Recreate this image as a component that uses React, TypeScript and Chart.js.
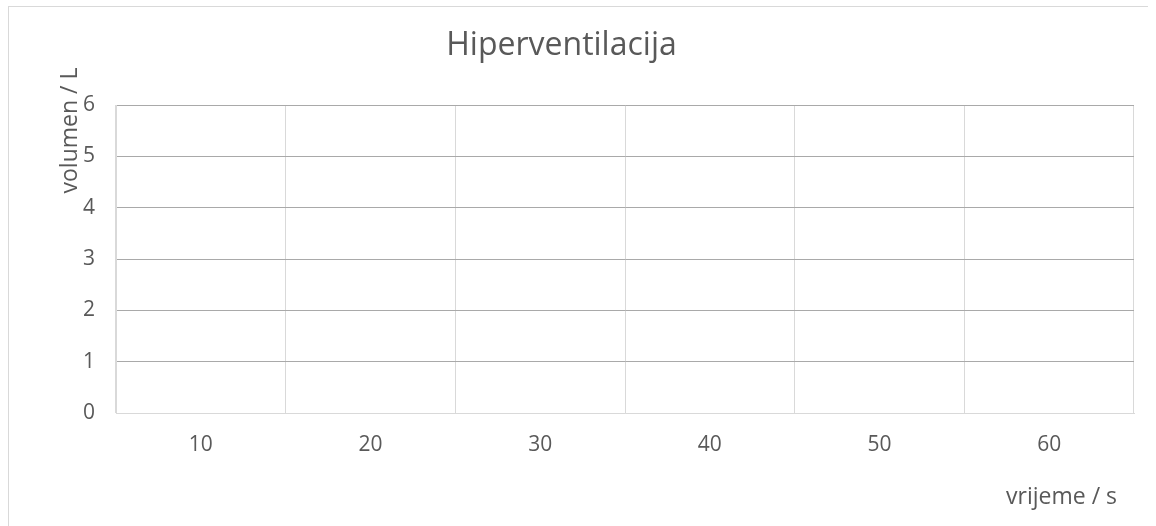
import React, { useEffect, useRef } from "react";
import { Chart, registerables } from "chart.js";

Chart.register(...registerables);

const categories = ["10", "20", "30", "40", "50", "60"];
const volumeValues: (number | null)[] = [null, null, null, null, null, null];
const yTickMin = 0;
const yTickMax = 6;
const yTickStep = 1;

const chartTitle = "Hiperventilacija";
const yTitle = "volumen / L";
const xTitle = "vrijeme / s";

const FONT = "'Open Sans', 'Noto Sans', sans-serif";
const TEXT = "#595959";

const textPlugin = {
  id: "excelTexts",
  afterDraw(chart: any) {
    const ctx = chart.ctx;
    ctx.save();
    ctx.fillStyle = TEXT;
    ctx.textBaseline = "alphabetic";
    // title
    ctx.font = `32px ${FONT}`;
    ctx.textAlign = "center";
    ctx.fillText(chartTitle, 561.5, 55);
    // x title
    ctx.font = `23px ${FONT}`;
    ctx.textAlign = "right";
    ctx.fillText(xTitle, 1117, 504);
    // y title rotated
    ctx.translate(77, 130.5);
    ctx.rotate(-Math.PI / 2);
    ctx.textAlign = "center";
    ctx.fillText(yTitle, 0, 0);
    ctx.restore();
  },
};

export default function App() {
  const ref = useRef<HTMLCanvasElement | null>(null);
  useEffect(() => {
    if (!ref.current) return;
    const chart = new Chart(ref.current, {
      type: "line",
      data: {
        labels: categories,
        datasets: [
          {
            label: "volumen",
            data: volumeValues,
            borderColor: "#4472c4",
            backgroundColor: "#4472c4",
            pointRadius: 0,
          },
        ],
      },
      options: {
        responsive: false,
        animation: false,
        layout: { padding: { top: 105, left: 56, right: 22, bottom: 53 } },
        plugins: {
          legend: { display: false },
          title: { display: false },
          tooltip: { enabled: false },
        },
        scales: {
          x: {
            type: "category",
            offset: true,
            afterFit(scale: any) {
              scale.height = 60;
            },
            grid: {
              offset: true,
              color: "#d9d9d9",
              lineWidth: 1,
              drawTicks: false,
            },
            border: { display: true, color: "#d9d9d9", width: 1 },
            ticks: {
              color: TEXT,
              font: { family: FONT, size: 21 },
              padding: 19,
              maxRotation: 0,
            },
          },
          y: {
            type: "linear",
            min: yTickMin,
            max: yTickMax,
            afterFit(scale: any) {
              scale.width = 60;
            },
            grid: {
              color: (c: any) => (c.tick && c.tick.value === 0 ? "#d9d9d9" : "#a9a9a9"),
              lineWidth: 1,
              drawTicks: false,
            },
            border: { display: true, color: "#d9d9d9", width: 1 },
            ticks: {
              stepSize: yTickStep,
              color: TEXT,
              font: { family: FONT, size: 21 },
              padding: 21,
            },
          },
        },
      },
      plugins: [textPlugin],
    });
    return () => chart.destroy();
  }, []);

  return (
    <div style={{ position: "absolute", left: 0, top: 0, width: 1156, height: 526, background: "#fff", overflow: "hidden" }}>
      <div
        style={{
          position: "absolute",
          left: 8,
          top: 6,
          width: 1139,
          height: 520,
          borderLeft: "1px solid #d9d9d9",
          borderTop: "1px solid #d9d9d9",
        }}
      />
      <canvas ref={ref} width={1156} height={526} style={{ position: "absolute", left: 0, top: 0 }} />
    </div>
  );
}
